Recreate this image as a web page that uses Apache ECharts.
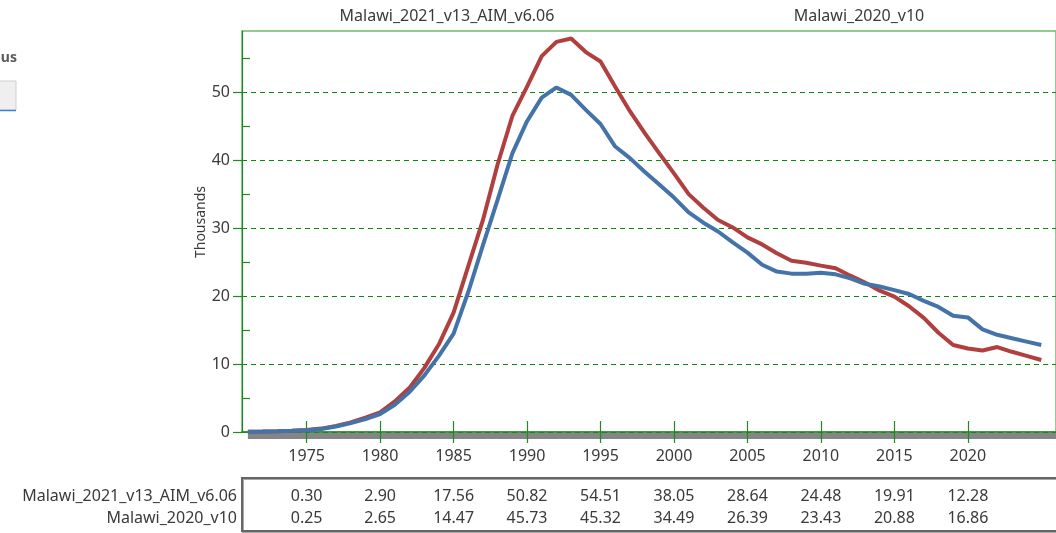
<!DOCTYPE html>
<html>
<head>
<meta charset="utf-8">
<script src="https://cdn.jsdelivr.net/npm/echarts@6/dist/echarts.min.js"></script>
<style>
html,body{margin:0;padding:0;background:#fff;}
#chart{width:1056px;height:533px;}
</style>
</head>
<body>
<div id="chart"></div>
<script>
const seriesNames = ['Malawi_2021_v13_AIM_v6.06', 'Malawi_2020_v10'];
const years = [1971,1972,1973,1974,1975,1976,1977,1978,1979,1980,
               1981,1982,1983,1984,1985,1986,1987,1988,1989,1990,
               1991,1992,1993,1994,1995,1996,1997,1998,1999,2000,
               2001,2002,2003,2004,2005,2006,2007,2008,2009,2010,
               2011,2012,2013,2014,2015,2016,2017,2018,2019,2020,
               2021,2022,2023,2024,2025];
const aim2021 = [0.05,0.08,0.12,0.20,0.30,0.50,0.90,1.40,2.10,2.90,
                 4.50,6.50,9.40,12.90,17.56,24.40,31.20,39.40,46.50,50.82,
                 55.30,57.40,57.90,55.90,54.51,50.80,47.20,44.00,41.00,38.05,
                 35.00,33.00,31.20,30.10,28.64,27.60,26.30,25.20,24.90,24.48,
                 24.10,23.00,22.00,20.80,19.91,18.50,16.80,14.60,12.80,12.28,
                 12.00,12.50,11.80,11.20,10.60];
const v2020 = [0.05,0.07,0.10,0.17,0.25,0.45,0.80,1.30,1.90,2.65,
               4.00,5.90,8.30,11.20,14.47,20.60,27.50,34.20,41.00,45.73,
               49.20,50.70,49.60,47.40,45.32,42.00,40.30,38.30,36.40,34.49,
               32.30,30.80,29.50,27.90,26.39,24.60,23.60,23.30,23.30,23.43,
               23.20,22.60,21.80,21.40,20.88,20.30,19.30,18.40,17.10,16.86,
               15.10,14.30,13.80,13.30,12.80];
const xTicks = [1975,1980,1985,1990,1995,2000,2005,2010,2015,2020];
const yTicks = [0,10,20,30,40,50];
const yMinorTicks = [5,15,25,35,45,55];

const RED = '#b0403f', BLUE = '#4373a8';
const GREEN = '#1f8a1f', GRIDGREEN = '#0a8a0a', BORDERGREEN = '#6cbc6c';
const TXT = '#3a3a3a';
const FONT = '"Noto Sans", "Open Sans", sans-serif';
const FS = 16;

const chart = echarts.init(document.getElementById('chart'), null, {renderer: 'canvas'});

const pairs = arr => years.map((y, i) => [y, arr[i]]);

const option = {
  animation: false,
  backgroundColor: '#fff',
  textStyle: {fontFamily: FONT},
  grid: {left: 242, top: 31, width: 835, height: 401, show: true,
         borderColor: BORDERGREEN, borderWidth: 1.5, backgroundColor: 'transparent'},
  xAxis: [
    {type: 'value', min: 1970.6, max: 2026, position: 'bottom',
     axisLine: {show: true, lineStyle: {color: GREEN, width: 1.5}},
     axisTick: {show: true, customValues: xTicks, length: 11, lineStyle: {color: GREEN, width: 1.2}},
     axisLabel: {customValues: xTicks, margin: 16, fontSize: FS, color: TXT, fontFamily: FONT,
                 formatter: v => String(v)},
     splitLine: {show: false}},
    {type: 'value', min: 1970.6, max: 2026, position: 'bottom',
     axisLine: {show: false},
     axisTick: {show: true, inside: true, customValues: xTicks, length: 11, lineStyle: {color: GREEN, width: 1.2}},
     axisLabel: {show: false}, splitLine: {show: false}}
  ],
  yAxis: [
    {type: 'value', min: 0, max: 59, interval: 10, position: 'left',
     axisLine: {show: true, lineStyle: {color: GREEN, width: 1.2}},
     axisTick: {show: true, length: 9, customValues: yTicks, lineStyle: {color: GREEN, width: 1.2}},
     axisLabel: {margin: 12, fontSize: FS, color: TXT, fontFamily: FONT, customValues: yTicks,
                 formatter: v => String(v)},
     splitLine: {show: true, lineStyle: {color: GRIDGREEN, type: [5, 4], width: 1}}},
    {type: 'value', min: 0, max: 59, position: 'left',
     axisLine: {show: false},
     axisTick: {show: true, inside: true, customValues: yMinorTicks, length: 8, lineStyle: {color: GREEN, width: 1.2}},
     axisLabel: {show: false}, splitLine: {show: false}}
  ],
  series: [
    {name: seriesNames[0], type: 'line', xAxisIndex: 0, yAxisIndex: 0,
     data: pairs(aim2021), showSymbol: false, symbol: 'none',
     lineStyle: {color: RED, width: 4}, itemStyle: {color: RED}, z: 3},
    {name: seriesNames[1], type: 'line', xAxisIndex: 0, yAxisIndex: 0,
     data: pairs(v2020), showSymbol: false, symbol: 'none',
     lineStyle: {color: BLUE, width: 4}, itemStyle: {color: BLUE}, z: 4}
  ]
};
chart.setOption(option);

// Build decorations & data table from the axis scale
const px = v => chart.convertToPixel({xAxisIndex: 0}, v);
const py = v => chart.convertToPixel({yAxisIndex: 0}, v);
const y0 = py(0);
const els = [];

// gray band under the x axis
els.push({type: 'rect', z: -10, silent: true,
  shape: {x: px(years[0]), y: y0 + 1, width: 1100, height: 6},
  style: {fill: '#858585'}});

// top labels
els.push({type: 'text', x: 447, y: 16, style: {text: seriesNames[0], fill: TXT, font: FS + 'px ' + FONT, align: 'center', verticalAlign: 'middle'}});
els.push({type: 'text', x: 859, y: 16, style: {text: seriesNames[1], fill: TXT, font: FS + 'px ' + FONT, align: 'center', verticalAlign: 'middle'}});

// y axis name
els.push({type: 'text', x: 201, y: 222, rotation: Math.PI / 2,
  style: {text: 'Thousands', fill: TXT, font: '14px ' + FONT, align: 'center', verticalAlign: 'middle'}});

// cut-off UI at far left
els.push({type: 'text', x: 17, y: 58, style: {text: 'ous', fill: '#5a5a5a', font: 'bold 14px ' + FONT, align: 'right', verticalAlign: 'middle'}});
els.push({type: 'rect', shape: {x: -4, y: 81, width: 20, height: 29}, style: {fill: '#efefef', stroke: '#cfcfcf', lineWidth: 1}});
els.push({type: 'line', shape: {x1: 0, y1: 110.5, x2: 16, y2: 110.5}, style: {stroke: '#3c7fd6', lineWidth: 1.5}});

// data table
const tableLeft = 242, tableTop = 478, tableBottom = 531;
els.push({type: 'rect', shape: {x: tableLeft, y: tableTop, width: 900, height: tableBottom - tableTop},
  style: {fill: 'none', stroke: '#666', lineWidth: 2, shadowColor: 'rgba(0,0,0,0.35)', shadowOffsetX: 1, shadowOffsetY: 1, shadowBlur: 0}});
const rowY = [496, 518];
const rowData = [aim2021, v2020];
rowData.forEach((arr, r) => {
  els.push({type: 'text', x: 237, y: rowY[r], style: {text: seriesNames[r], fill: TXT, font: FS + 'px ' + FONT, align: 'right', verticalAlign: 'middle'}});
  xTicks.forEach(t => {
    const i = years.indexOf(t);
    els.push({type: 'text', x: px(t), y: rowY[r], style: {text: arr[i].toFixed(2), fill: TXT, font: FS + 'px ' + FONT, align: 'center', verticalAlign: 'middle'}});
  });
});

chart.setOption({graphic: {elements: els}});
</script>
</body>
</html>
